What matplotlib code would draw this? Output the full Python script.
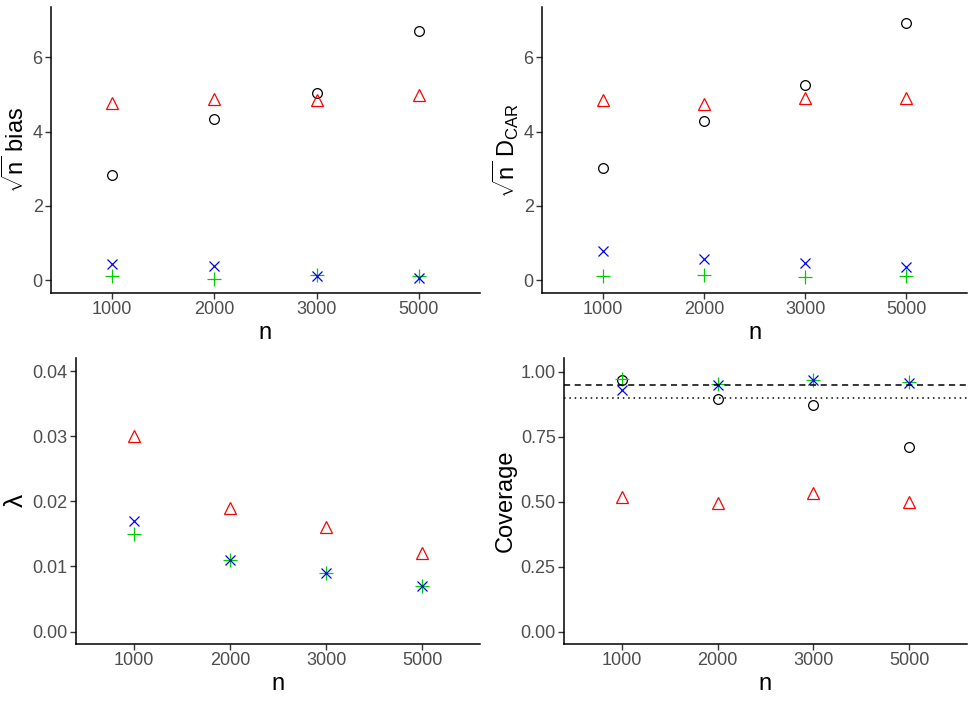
import matplotlib
matplotlib.use('Agg')
import matplotlib.pyplot as plt
import numpy as np

plt.rcParams['font.family'] = ['Liberation Sans', 'DejaVu Sans']
plt.rcParams['mathtext.fontset'] = 'custom'
plt.rcParams['mathtext.rm'] = 'Liberation Sans'
plt.rcParams['mathtext.it'] = 'Liberation Sans'
plt.rcParams['mathtext.sf'] = 'Liberation Sans'

# data
n_labels = ['1000', '2000', '3000', '5000']

bias_circle = [2.84, 4.34, 5.03, 6.71]
bias_tri = [4.76, 4.87, 4.84, 4.98]
bias_x = [0.43, 0.39, 0.11, 0.07]
bias_plus = [0.12, 0.03, 0.15, 0.13]

dcar_circle = [3.03, 4.29, 5.24, 6.93]
dcar_tri = [4.85, 4.73, 4.91, 4.89]
dcar_x = [0.79, 0.57, 0.48, 0.35]
dcar_plus = [0.12, 0.14, 0.10, 0.12]

lam_tri = [0.030, 0.019, 0.016, 0.012]
lam_x = [0.017, 0.011, 0.009, 0.007]
lam_plus = [0.015, 0.011, 0.009, 0.007]

cov_circle = [0.967, 0.897, 0.874, 0.709]
cov_tri = [0.520, 0.496, 0.533, 0.501]
cov_x = [0.931, 0.950, 0.967, 0.958]
cov_plus = [0.974, 0.952, 0.969, 0.962]
cov_dashed = 0.95
cov_dotted = 0.90

W, H = 975, 702
fig = plt.figure(figsize=(W / 100, H / 100), dpi=100)

def make_ax(l, r, t, b):
    return fig.add_axes([l / W, 1 - b / H, (r - l) / W, (b - t) / H])

axes = [make_ax(51, 480, 7, 293), make_ax(542, 967, 7, 293),
        make_ax(76, 480, 358, 644), make_ax(564, 967, 358, 644)]

pos = np.arange(1, len(n_labels) + 1)
red, blue, green = '#FF0000', '#0000FF', '#00CD00'

def draw(ax, circ, tri, xs, plus):
    if circ is not None:
        ax.plot(pos, circ, 'o', ms=7, mfc='none', mec='black', mew=0.9)
    ax.plot(pos, tri, '^', ms=9, mfc='none', mec=red, mew=0.9)
    ax.plot(pos, plus, '+', ms=10, color=green, mew=0.9)
    ax.plot(pos, xs, 'x', ms=7.5, color=blue, mew=0.9)

draw(axes[0], bias_circle, bias_tri, bias_x, bias_plus)
draw(axes[1], dcar_circle, dcar_tri, dcar_x, dcar_plus)
draw(axes[2], None, lam_tri, lam_x, lam_plus)
draw(axes[3], cov_circle, cov_tri, cov_x, cov_plus)
axes[3].axhline(cov_dashed, color='black', ls=(0, (4, 3)), lw=1.1)
axes[3].axhline(cov_dotted, color='black', ls=(0, (1, 2.5)), lw=1.1)

ylims = [(-0.34, 7.35), (-0.34, 7.35), (-0.0019, 0.042), (-0.047, 1.053)]
yticks = [[0, 2, 4, 6], [0, 2, 4, 6], [0, 0.01, 0.02, 0.03, 0.04],
          [0, 0.25, 0.5, 0.75, 1.0]]
yticklabels = [['0', '2', '4', '6'], ['0', '2', '4', '6'],
               ['0.00', '0.01', '0.02', '0.03', '0.04'],
               ['0.00', '0.25', '0.50', '0.75', '1.00']]
ylabels = [r'$\sqrt{n}$ bias', r'$\sqrt{n}\ \mathrm{D}_{\mathrm{CAR}}$',
           r'$\lambda$', 'Coverage']
ylabel_size = [17, 17, 19, 17]
ylabel_x = [29, 521, 28, 517]

for ax, yl, yt, ytl, lab, ls_, lx in zip(axes, ylims, yticks, yticklabels,
                                          ylabels, ylabel_size, ylabel_x):
    ax.set_xlim(0.4, 4.6)
    ax.set_ylim(*yl)
    ax.set_xticks(pos)
    ax.set_xticklabels(n_labels)
    ax.set_yticks(yt)
    ax.set_yticklabels(ytl)
    for s in ['top', 'right']:
        ax.spines[s].set_visible(False)
    for s in ['left', 'bottom']:
        ax.spines[s].set_linewidth(1.1)
        ax.spines[s].set_color('black')
    ax.tick_params(labelsize=13, colors='#4D4D4D', length=4, width=1.0, pad=2)
    ax.tick_params(axis='both', which='both', color='#333333')
    ax.set_xlabel('n', fontsize=17, labelpad=3)
    ax.set_ylabel(lab, fontsize=ls_)
    bb = ax.get_position()
    ax.yaxis.set_label_coords(lx / W, bb.y0 + bb.height / 2, transform=fig.transFigure)

fig.savefig('out.png', dpi=100, facecolor='white')
